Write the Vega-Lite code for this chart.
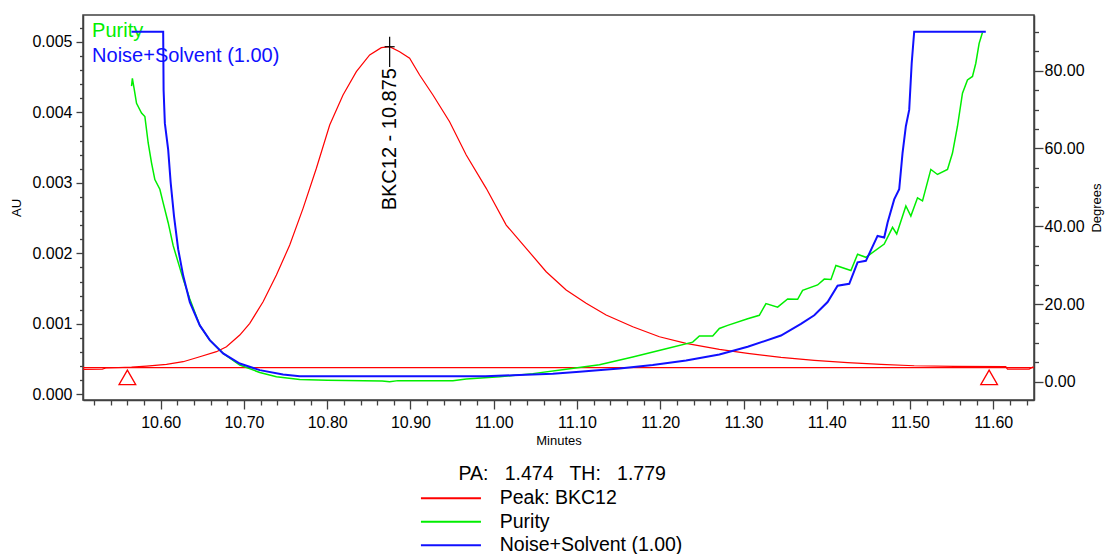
{
  "$schema": "https://vega.github.io/schema/vega-lite/v6.json",
  "width": 951,
  "height": 385,
  "autosize": "none",
  "padding": {"left": 83, "top": 15, "right": 71, "bottom": 154},
  "background": "#ffffff",
  "config": {
    "font": "Liberation Sans",
    "view": {"stroke": "#404040", "strokeWidth": 1.5},
    "axis": {"domainColor": "#404040", "domainWidth": 1.5, "tickColor": "#404040", "tickWidth": 1.3, "labelColor": "#000000", "titleColor": "#000000", "labelFontSize": 16, "titleFontSize": 13, "titleFontWeight": "normal", "grid": false, "labelOverlap": false, "labelFlush": false, "labelBound": false}
  },
  "datasets": {
    "peak": [
      {"Minutes": 10.507, "AU": 0.000355, "series": "Peak: BKC12"},
      {"Minutes": 10.530, "AU": 0.000358, "series": "Peak: BKC12"},
      {"Minutes": 10.534, "AU": 0.000374, "series": "Peak: BKC12"},
      {"Minutes": 10.565, "AU": 0.000385, "series": "Peak: BKC12"},
      {"Minutes": 10.583, "AU": 0.000401, "series": "Peak: BKC12"},
      {"Minutes": 10.607, "AU": 0.000425, "series": "Peak: BKC12"},
      {"Minutes": 10.627, "AU": 0.000463, "series": "Peak: BKC12"},
      {"Minutes": 10.647, "AU": 0.000534, "series": "Peak: BKC12"},
      {"Minutes": 10.667, "AU": 0.000605, "series": "Peak: BKC12"},
      {"Minutes": 10.679, "AU": 0.000675, "series": "Peak: BKC12"},
      {"Minutes": 10.695, "AU": 0.000841, "series": "Peak: BKC12"},
      {"Minutes": 10.707, "AU": 0.001007, "series": "Peak: BKC12"},
      {"Minutes": 10.723, "AU": 0.001314, "series": "Peak: BKC12"},
      {"Minutes": 10.739, "AU": 0.001692, "series": "Peak: BKC12"},
      {"Minutes": 10.755, "AU": 0.002118, "series": "Peak: BKC12"},
      {"Minutes": 10.771, "AU": 0.002638, "series": "Peak: BKC12"},
      {"Minutes": 10.787, "AU": 0.003206, "series": "Peak: BKC12"},
      {"Minutes": 10.803, "AU": 0.003820, "series": "Peak: BKC12"},
      {"Minutes": 10.819, "AU": 0.004245, "series": "Peak: BKC12"},
      {"Minutes": 10.835, "AU": 0.004576, "series": "Peak: BKC12"},
      {"Minutes": 10.851, "AU": 0.004813, "series": "Peak: BKC12"},
      {"Minutes": 10.865, "AU": 0.004917, "series": "Peak: BKC12"},
      {"Minutes": 10.875, "AU": 0.004930, "series": "Peak: BKC12"},
      {"Minutes": 10.887, "AU": 0.004860, "series": "Peak: BKC12"},
      {"Minutes": 10.899, "AU": 0.004766, "series": "Peak: BKC12"},
      {"Minutes": 10.911, "AU": 0.004529, "series": "Peak: BKC12"},
      {"Minutes": 10.927, "AU": 0.004245, "series": "Peak: BKC12"},
      {"Minutes": 10.947, "AU": 0.003867, "series": "Peak: BKC12"},
      {"Minutes": 10.967, "AU": 0.003394, "series": "Peak: BKC12"},
      {"Minutes": 10.991, "AU": 0.002922, "series": "Peak: BKC12"},
      {"Minutes": 11.015, "AU": 0.002401, "series": "Peak: BKC12"},
      {"Minutes": 11.039, "AU": 0.002071, "series": "Peak: BKC12"},
      {"Minutes": 11.063, "AU": 0.001739, "series": "Peak: BKC12"},
      {"Minutes": 11.087, "AU": 0.001480, "series": "Peak: BKC12"},
      {"Minutes": 11.111, "AU": 0.001291, "series": "Peak: BKC12"},
      {"Minutes": 11.135, "AU": 0.001125, "series": "Peak: BKC12"},
      {"Minutes": 11.167, "AU": 0.000959, "series": "Peak: BKC12"},
      {"Minutes": 11.199, "AU": 0.000817, "series": "Peak: BKC12"},
      {"Minutes": 11.231, "AU": 0.000723, "series": "Peak: BKC12"},
      {"Minutes": 11.271, "AU": 0.000638, "series": "Peak: BKC12"},
      {"Minutes": 11.305, "AU": 0.000582, "series": "Peak: BKC12"},
      {"Minutes": 11.345, "AU": 0.000525, "series": "Peak: BKC12"},
      {"Minutes": 11.385, "AU": 0.000482, "series": "Peak: BKC12"},
      {"Minutes": 11.425, "AU": 0.000449, "series": "Peak: BKC12"},
      {"Minutes": 11.465, "AU": 0.000426, "series": "Peak: BKC12"},
      {"Minutes": 11.505, "AU": 0.000406, "series": "Peak: BKC12"},
      {"Minutes": 11.553, "AU": 0.000397, "series": "Peak: BKC12"},
      {"Minutes": 11.615, "AU": 0.000392, "series": "Peak: BKC12"},
      {"Minutes": 11.617, "AU": 0.000359, "series": "Peak: BKC12"},
      {"Minutes": 11.643, "AU": 0.000359, "series": "Peak: BKC12"},
      {"Minutes": 11.648, "AU": 0.000390, "series": "Peak: BKC12"}
    ],
    "baseline": [
      {"Minutes": 10.5067, "AU": 0.000378},
      {"Minutes": 11.6489, "AU": 0.000378}
    ],
    "markers": [
      {"Minutes": 10.560},
      {"Minutes": 11.595}
    ],
    "purity": [
      {"Minutes": 10.565, "Degrees": 76.0, "series": "Purity"},
      {"Minutes": 10.566, "Degrees": 78.0, "series": "Purity"},
      {"Minutes": 10.568, "Degrees": 75.5, "series": "Purity"},
      {"Minutes": 10.571, "Degrees": 71.6, "series": "Purity"},
      {"Minutes": 10.577, "Degrees": 69.1, "series": "Purity"},
      {"Minutes": 10.581, "Degrees": 68.2, "series": "Purity"},
      {"Minutes": 10.585, "Degrees": 61.4, "series": "Purity"},
      {"Minutes": 10.589, "Degrees": 56.3, "series": "Purity"},
      {"Minutes": 10.593, "Degrees": 52.0, "series": "Purity"},
      {"Minutes": 10.599, "Degrees": 49.5, "series": "Purity"},
      {"Minutes": 10.603, "Degrees": 46.0, "series": "Purity"},
      {"Minutes": 10.609, "Degrees": 40.9, "series": "Purity"},
      {"Minutes": 10.615, "Degrees": 35.0, "series": "Purity"},
      {"Minutes": 10.621, "Degrees": 30.7, "series": "Purity"},
      {"Minutes": 10.627, "Degrees": 26.4, "series": "Purity"},
      {"Minutes": 10.635, "Degrees": 21.3, "series": "Purity"},
      {"Minutes": 10.647, "Degrees": 14.5, "series": "Purity"},
      {"Minutes": 10.659, "Degrees": 10.7, "series": "Purity"},
      {"Minutes": 10.675, "Degrees": 7.3, "series": "Purity"},
      {"Minutes": 10.695, "Degrees": 4.3, "series": "Purity"},
      {"Minutes": 10.719, "Degrees": 2.4, "series": "Purity"},
      {"Minutes": 10.739, "Degrees": 1.3, "series": "Purity"},
      {"Minutes": 10.767, "Degrees": 0.6, "series": "Purity"},
      {"Minutes": 10.800, "Degrees": 0.4, "series": "Purity"},
      {"Minutes": 10.866, "Degrees": 0.2, "series": "Purity"},
      {"Minutes": 10.875, "Degrees": 0.0, "series": "Purity"},
      {"Minutes": 10.885, "Degrees": 0.3, "series": "Purity"},
      {"Minutes": 10.951, "Degrees": 0.3, "series": "Purity"},
      {"Minutes": 10.967, "Degrees": 0.7, "series": "Purity"},
      {"Minutes": 11.007, "Degrees": 1.3, "series": "Purity"},
      {"Minutes": 11.047, "Degrees": 2.1, "series": "Purity"},
      {"Minutes": 11.087, "Degrees": 3.2, "series": "Purity"},
      {"Minutes": 11.127, "Degrees": 4.4, "series": "Purity"},
      {"Minutes": 11.167, "Degrees": 6.4, "series": "Purity"},
      {"Minutes": 11.207, "Degrees": 8.5, "series": "Purity"},
      {"Minutes": 11.239, "Degrees": 10.2, "series": "Purity"},
      {"Minutes": 11.247, "Degrees": 11.8, "series": "Purity"},
      {"Minutes": 11.263, "Degrees": 11.8, "series": "Purity"},
      {"Minutes": 11.271, "Degrees": 13.7, "series": "Purity"},
      {"Minutes": 11.281, "Degrees": 14.5, "series": "Purity"},
      {"Minutes": 11.305, "Degrees": 16.2, "series": "Purity"},
      {"Minutes": 11.319, "Degrees": 17.1, "series": "Purity"},
      {"Minutes": 11.327, "Degrees": 20.1, "series": "Purity"},
      {"Minutes": 11.341, "Degrees": 19.2, "series": "Purity"},
      {"Minutes": 11.353, "Degrees": 21.3, "series": "Purity"},
      {"Minutes": 11.365, "Degrees": 21.2, "series": "Purity"},
      {"Minutes": 11.371, "Degrees": 23.5, "series": "Purity"},
      {"Minutes": 11.389, "Degrees": 24.9, "series": "Purity"},
      {"Minutes": 11.397, "Degrees": 26.4, "series": "Purity"},
      {"Minutes": 11.405, "Degrees": 26.3, "series": "Purity"},
      {"Minutes": 11.411, "Degrees": 29.9, "series": "Purity"},
      {"Minutes": 11.429, "Degrees": 28.6, "series": "Purity"},
      {"Minutes": 11.437, "Degrees": 32.8, "series": "Purity"},
      {"Minutes": 11.447, "Degrees": 32.0, "series": "Purity"},
      {"Minutes": 11.469, "Degrees": 35.4, "series": "Purity"},
      {"Minutes": 11.479, "Degrees": 39.7, "series": "Purity"},
      {"Minutes": 11.484, "Degrees": 38.0, "series": "Purity"},
      {"Minutes": 11.495, "Degrees": 45.2, "series": "Purity"},
      {"Minutes": 11.501, "Degrees": 42.6, "series": "Purity"},
      {"Minutes": 11.509, "Degrees": 47.3, "series": "Purity"},
      {"Minutes": 11.515, "Degrees": 46.5, "series": "Purity"},
      {"Minutes": 11.525, "Degrees": 54.6, "series": "Purity"},
      {"Minutes": 11.533, "Degrees": 53.3, "series": "Purity"},
      {"Minutes": 11.545, "Degrees": 54.6, "series": "Purity"},
      {"Minutes": 11.551, "Degrees": 58.8, "series": "Purity"},
      {"Minutes": 11.557, "Degrees": 65.7, "series": "Purity"},
      {"Minutes": 11.563, "Degrees": 74.2, "series": "Purity"},
      {"Minutes": 11.569, "Degrees": 77.6, "series": "Purity"},
      {"Minutes": 11.575, "Degrees": 78.5, "series": "Purity"},
      {"Minutes": 11.579, "Degrees": 81.9, "series": "Purity"},
      {"Minutes": 11.583, "Degrees": 87.0, "series": "Purity"},
      {"Minutes": 11.587, "Degrees": 89.8, "series": "Purity"}
    ],
    "noise": [
      {"Minutes": 10.565, "Degrees": 90.0, "series": "Noise+Solvent (1.00)"},
      {"Minutes": 10.603, "Degrees": 90.0, "series": "Noise+Solvent (1.00)"},
      {"Minutes": 10.6035, "Degrees": 75.0, "series": "Noise+Solvent (1.00)"},
      {"Minutes": 10.605, "Degrees": 66.5, "series": "Noise+Solvent (1.00)"},
      {"Minutes": 10.609, "Degrees": 59.7, "series": "Noise+Solvent (1.00)"},
      {"Minutes": 10.612, "Degrees": 51.2, "series": "Noise+Solvent (1.00)"},
      {"Minutes": 10.616, "Degrees": 42.6, "series": "Noise+Solvent (1.00)"},
      {"Minutes": 10.621, "Degrees": 34.1, "series": "Noise+Solvent (1.00)"},
      {"Minutes": 10.627, "Degrees": 27.3, "series": "Noise+Solvent (1.00)"},
      {"Minutes": 10.635, "Degrees": 20.5, "series": "Noise+Solvent (1.00)"},
      {"Minutes": 10.647, "Degrees": 14.5, "series": "Noise+Solvent (1.00)"},
      {"Minutes": 10.659, "Degrees": 10.7, "series": "Noise+Solvent (1.00)"},
      {"Minutes": 10.675, "Degrees": 7.3, "series": "Noise+Solvent (1.00)"},
      {"Minutes": 10.695, "Degrees": 4.7, "series": "Noise+Solvent (1.00)"},
      {"Minutes": 10.719, "Degrees": 3.0, "series": "Noise+Solvent (1.00)"},
      {"Minutes": 10.747, "Degrees": 1.9, "series": "Noise+Solvent (1.00)"},
      {"Minutes": 10.767, "Degrees": 1.4, "series": "Noise+Solvent (1.00)"},
      {"Minutes": 10.990, "Degrees": 1.4, "series": "Noise+Solvent (1.00)"},
      {"Minutes": 11.023, "Degrees": 1.7, "series": "Noise+Solvent (1.00)"},
      {"Minutes": 11.071, "Degrees": 2.1, "series": "Noise+Solvent (1.00)"},
      {"Minutes": 11.103, "Degrees": 2.6, "series": "Noise+Solvent (1.00)"},
      {"Minutes": 11.151, "Degrees": 3.4, "series": "Noise+Solvent (1.00)"},
      {"Minutes": 11.191, "Degrees": 4.3, "series": "Noise+Solvent (1.00)"},
      {"Minutes": 11.231, "Degrees": 5.5, "series": "Noise+Solvent (1.00)"},
      {"Minutes": 11.271, "Degrees": 7.0, "series": "Noise+Solvent (1.00)"},
      {"Minutes": 11.305, "Degrees": 9.0, "series": "Noise+Solvent (1.00)"},
      {"Minutes": 11.345, "Degrees": 11.9, "series": "Noise+Solvent (1.00)"},
      {"Minutes": 11.369, "Degrees": 14.9, "series": "Noise+Solvent (1.00)"},
      {"Minutes": 11.385, "Degrees": 17.1, "series": "Noise+Solvent (1.00)"},
      {"Minutes": 11.401, "Degrees": 20.5, "series": "Noise+Solvent (1.00)"},
      {"Minutes": 11.413, "Degrees": 24.7, "series": "Noise+Solvent (1.00)"},
      {"Minutes": 11.427, "Degrees": 25.2, "series": "Noise+Solvent (1.00)"},
      {"Minutes": 11.437, "Degrees": 30.7, "series": "Noise+Solvent (1.00)"},
      {"Minutes": 11.447, "Degrees": 31.1, "series": "Noise+Solvent (1.00)"},
      {"Minutes": 11.461, "Degrees": 37.5, "series": "Noise+Solvent (1.00)"},
      {"Minutes": 11.469, "Degrees": 37.1, "series": "Noise+Solvent (1.00)"},
      {"Minutes": 11.473, "Degrees": 40.9, "series": "Noise+Solvent (1.00)"},
      {"Minutes": 11.481, "Degrees": 46.9, "series": "Noise+Solvent (1.00)"},
      {"Minutes": 11.487, "Degrees": 49.5, "series": "Noise+Solvent (1.00)"},
      {"Minutes": 11.491, "Degrees": 58.8, "series": "Noise+Solvent (1.00)"},
      {"Minutes": 11.495, "Degrees": 65.7, "series": "Noise+Solvent (1.00)"},
      {"Minutes": 11.499, "Degrees": 69.9, "series": "Noise+Solvent (1.00)"},
      {"Minutes": 11.502, "Degrees": 81.9, "series": "Noise+Solvent (1.00)"},
      {"Minutes": 11.505, "Degrees": 90.0, "series": "Noise+Solvent (1.00)"},
      {"Minutes": 11.591, "Degrees": 90.0, "series": "Noise+Solvent (1.00)"}
    ]
  },
  "layer": [
    {
      "layer": [
        {
          "data": {"name": "peak"},
          "mark": {"type": "line", "strokeWidth": 1.2, "clip": true},
          "encoding": {
            "x": {"field": "Minutes", "type": "quantitative",
              "scale": {"domain": [10.5067, 11.6489], "nice": false, "zero": false},
              "axis": {"title": "Minutes", "orient": "bottom", "titlePadding": 4, "labelOverlap": false, "tickCount": 200,
                "values": [10.52,10.54,10.56,10.58,10.6,10.62,10.64,10.66,10.68,10.7,10.72,10.74,10.76,10.78,10.8,10.82,10.84,10.86,10.88,10.9,10.92,10.94,10.96,10.98,11,11.02,11.04,11.06,11.08,11.1,11.12,11.14,11.16,11.18,11.2,11.22,11.24,11.26,11.28,11.3,11.32,11.34,11.36,11.38,11.4,11.42,11.44,11.46,11.48,11.5,11.52,11.54,11.56,11.58,11.6,11.62,11.64],
                "labelExpr": "abs(datum.value*10 - round(datum.value*10)) < 0.01 ? format(datum.value, '.2f') : ''",
                "tickSize": {"condition": {"test": "abs(datum.value*10 - round(datum.value*10)) < 0.01", "value": 9}, "value": 5},
                "labelPadding": 5}},
            "y": {"field": "AU", "type": "quantitative",
              "scale": {"domain": [-0.00008, 0.00538], "nice": false, "zero": false},
              "axis": {"title": "AU", "orient": "left", "titlePadding": 8, "labelOverlap": false, "tickCount": 200,
                "values": [0,0.0002,0.0004,0.0006,0.0008,0.001,0.0012,0.0014,0.0016,0.0018,0.002,0.0022,0.0024,0.0026,0.0028,0.003,0.0032,0.0034,0.0036,0.0038,0.004,0.0042,0.0044,0.0046,0.0048,0.005,0.0052],
                "labelExpr": "abs(datum.value*1000 - round(datum.value*1000)) < 0.01 ? format(datum.value, '.3f') : ''",
                "tickSize": {"condition": {"test": "abs(datum.value*1000 - round(datum.value*1000)) < 0.01", "value": 7}, "value": 3.5},
                "labelPadding": 4}},
            "color": {"field": "series", "type": "nominal",
              "scale": {"domain": ["Peak: BKC12", "Purity", "Noise+Solvent (1.00)"], "range": ["#ff0000", "#00ee00", "#1010ff"]},
              "legend": {"orient": "none", "legendX": 358.2, "legendY": 450, "direction": "vertical",
                "title": "PA:\u00a0\u00a0 1.474\u00a0\u00a0 TH:\u00a0\u00a0 1.779",
                "titleFontSize": 19.5, "titleFontWeight": "normal", "titleColor": "#000000", "titleAnchor": "middle", "titlePadding": 4, "titleLimit": 0,
                "labelFontSize": 19.5, "labelColor": "#000000", "labelLimit": 0, "symbolType": "M-6,0L6,0", "symbolSize": 100, "symbolStrokeWidth": 2,
                "labelOffset": 39, "rowPadding": 2.5, "padding": 0}}
          }
        },
        {
          "data": {"name": "baseline"},
          "mark": {"type": "line", "color": "#ff0000", "strokeWidth": 1.2},
          "encoding": {
            "x": {"field": "Minutes", "type": "quantitative"},
            "y": {"field": "AU", "type": "quantitative"}
          }
        },
        {
          "data": {"name": "markers"},
          "mark": {"type": "point", "shape": "triangle-up", "filled": false, "fill": "#ffffff", "fillOpacity": 1, "stroke": "#ff0000", "strokeWidth": 1.3, "size": 279, "opacity": 1},
          "encoding": {
            "x": {"field": "Minutes", "type": "quantitative"},
            "y": {"datum": 0.000241, "type": "quantitative"}
          }
        },
        {
          "data": {"values": [{"label": "BKC12 - 10.875"}]},
          "mark": {"type": "rule", "color": "#000000", "strokeWidth": 1.2},
          "encoding": {
            "x": {"datum": 10.875, "type": "quantitative"},
            "y": {"datum": 0.005072, "type": "quantitative"},
            "y2": {"datum": 0.004643}
          }
        },
        {
          "data": {"values": [{"label": "BKC12 - 10.875"}]},
          "mark": {"type": "rule", "color": "#000000", "strokeWidth": 1.2},
          "encoding": {
            "x": {"datum": 10.869, "type": "quantitative"},
            "x2": {"datum": 10.881},
            "y": {"datum": 0.00493, "type": "quantitative"}
          }
        },
        {
          "data": {"values": [{"label": "BKC12 - 10.875"}]},
          "mark": {"type": "text", "angle": 270, "align": "right", "baseline": "middle", "fontSize": 20, "color": "#000000"},
          "encoding": {
            "x": {"datum": 10.875, "type": "quantitative"},
            "y": {"datum": 0.004628, "type": "quantitative"},
            "text": {"field": "label"}
          }
        },
        {
          "data": {"values": [{"label": "Purity"}]},
          "mark": {"type": "text", "align": "left", "baseline": "alphabetic", "fontSize": 20, "color": "#00ee00"},
          "encoding": {
            "x": {"datum": 10.5176, "type": "quantitative"},
            "y": {"datum": 0.005068, "type": "quantitative"},
            "text": {"field": "label"}
          }
        },
        {
          "data": {"values": [{"label": "Noise+Solvent (1.00)"}]},
          "mark": {"type": "text", "align": "left", "baseline": "alphabetic", "fontSize": 20, "color": "#1010ff"},
          "encoding": {
            "x": {"datum": 10.5176, "type": "quantitative"},
            "y": {"datum": 0.004713, "type": "quantitative"},
            "text": {"field": "label"}
          }
        }
      ]
    },
    {
      "layer": [
        {
          "data": {"name": "purity"},
          "mark": {"type": "line", "strokeWidth": 1.5},
          "encoding": {
            "x": {"field": "Minutes", "type": "quantitative"},
            "y": {"field": "Degrees", "type": "quantitative",
              "scale": {"domain": [-4.68, 94.3], "nice": false, "zero": false},
              "axis": {"title": "Degrees", "orient": "right", "titlePadding": 6, "titleAngle": -90, "titleBaseline": "top", "labelOverlap": false, "tickCount": 200,
                "values": [0,5,10,15,20,25,30,35,40,45,50,55,60,65,70,75,80,85,90],
                "labelExpr": "datum.value % 20 === 0 ? format(datum.value, '.2f') : ''",
                "tickSize": {"condition": {"test": "datum.value % 20 === 0", "value": 9}, "value": 4.5},
                "labelPadding": 1}},
            "color": {"field": "series", "type": "nominal"}
          }
        },
        {
          "data": {"name": "noise"},
          "mark": {"type": "line", "strokeWidth": 2},
          "encoding": {
            "x": {"field": "Minutes", "type": "quantitative"},
            "y": {"field": "Degrees", "type": "quantitative"},
            "color": {"field": "series", "type": "nominal"}
          }
        }
      ]
    }
  ],
  "resolve": {"scale": {"y": "independent"}}
}
